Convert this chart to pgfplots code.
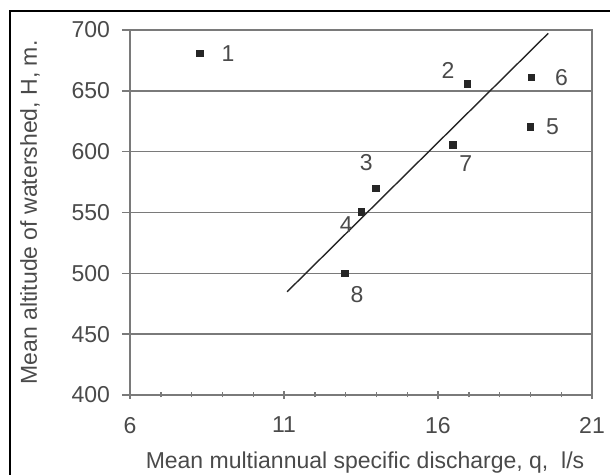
\documentclass[border=0pt]{standalone}
\usepackage{pgfplots}
\pgfplotsset{compat=1.18}
\usepackage{fontspec}
\setmainfont{Liberation Sans}
\definecolor{txt}{HTML}{4A4A4A}
\definecolor{grd}{HTML}{7A7A7A}
\newcommand{\ff}{\fontsize{11.5pt}{13pt}\selectfont}
\begin{document}
\ff
\begin{tikzpicture}
\clip (-65pt,-40pt) rectangle (240pt,197.5pt);
\begin{axis}[
  at={(0,0)}, anchor=south west,
  width=231pt, height=182.5pt, scale only axis,
  xmin=6, xmax=21, ymin=400, ymax=700,
  xtick={6,11,16,21}, minor xtick={7,8,9,10,12,13,14,15,17,18,19,20},
  ytick={400,450,...,700},
  ymajorgrids, grid style={grd, line width=0.7pt},
  axis line style={grd, line width=0.7pt},
  every tick/.style={grd, line width=0.7pt},
  major tick length=4pt, minor tick length=2.5pt,
  xtick align=center, ytick align=outside,
  xtick pos=bottom, ytick pos=left,
  tick label style={text=txt, font=\ff},
  /pgf/number format/assume math mode=true,
  xticklabel style={yshift=-5pt},
  yticklabel style={xshift=-2pt},
  xlabel={Mean multiannual specific discharge, q,\ \ l/s},
  ylabel={Mean altitude of watershed, H, m.},
  label style={text=txt, font=\ff},
  xlabel style={at={(axis description cs:0.5,0)}, anchor=center, yshift=-34pt, xshift=2pt},
  ylabel style={at={(axis description cs:0,0.5)}, anchor=center, rotate=0, yshift=50pt},
  clip=false,
]
\addplot[only marks, mark=square*, mark size=1.6pt, color=black!85,
  nodes near coords, point meta=explicit symbolic,
  visualization depends on={value \thisrow{ang} \as \ang},
  visualization depends on={value \thisrow{dist} \as \dist},
  every node near coord/.append style={text=txt, font=\ff, anchor=center, shift={(\ang:\dist pt)}}]
  table[meta=lab] {
x y lab ang dist
8.27 681 1 0 14
16.96 655.6 2 145 12
13.98 569.8 3 110 14
13.52 550.6 4 220 10
19.0 620.5 5 0 11
19.04 660.8 6 0 15
16.49 605.4 7 -55 11
12.98 500 8 -60 12
};
\addplot[black!85, line width=0.7pt] coordinates {(11.1,484.8) (19.58,697.3)};
\end{axis}
\draw[black, line width=1pt] (-60pt,-50pt) rectangle (250pt,192pt);
\end{tikzpicture}
\end{document}
